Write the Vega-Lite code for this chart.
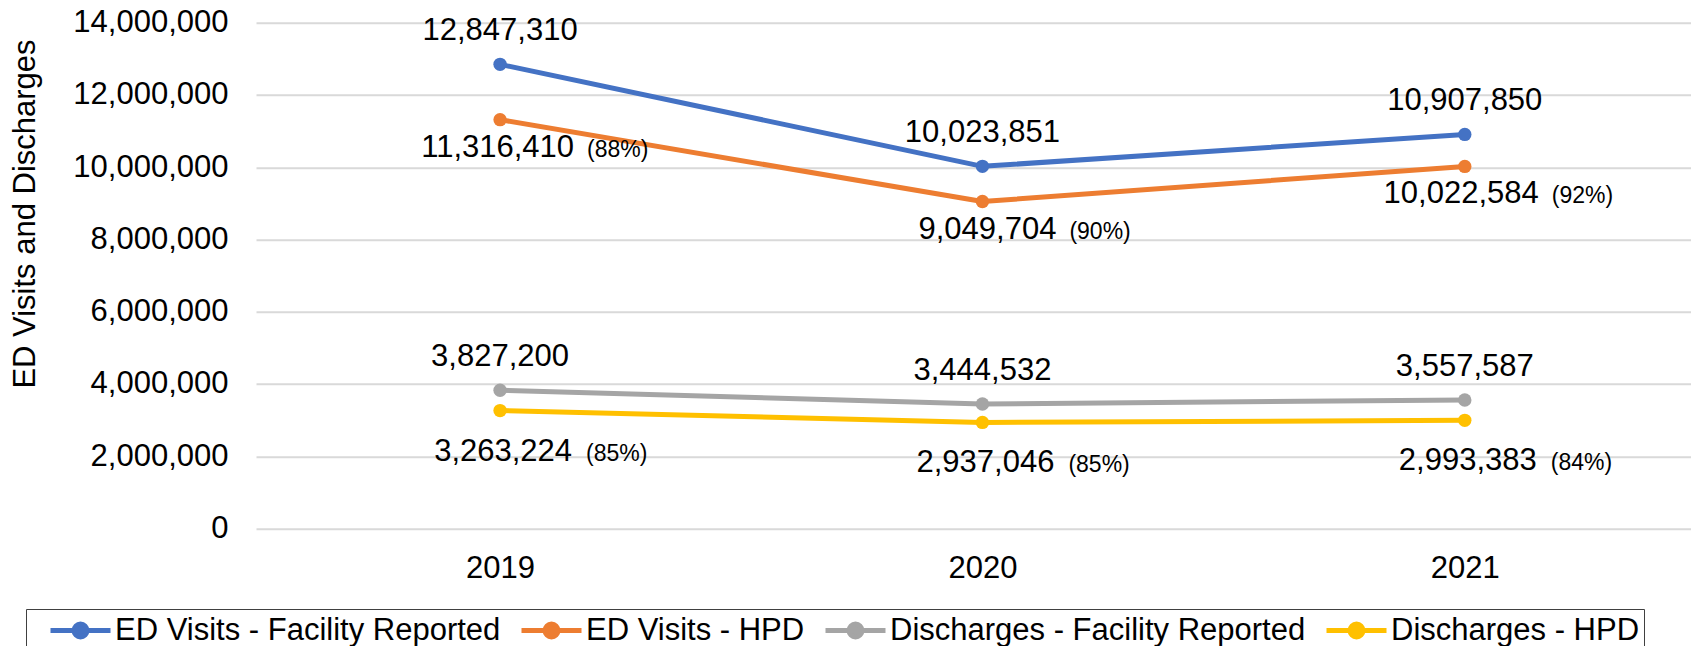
{
  "$schema": "https://vega.github.io/schema/vega-lite/v6.json",
  "width": 1435,
  "height": 505.8,
  "autosize": {"type": "none"},
  "padding": {"left": 256, "top": 22.7, "right": 0, "bottom": 117.5},
  "background": "white",
  "config": {"view": {"stroke": null}, "font": "Liberation Sans, Arial, sans-serif"},
  "data": {"values": [
    {"year": 2019, "series": "ED Visits - Facility Reported", "value": 12847310, "pct": ""},
    {"year": 2020, "series": "ED Visits - Facility Reported", "value": 10023851, "pct": ""},
    {"year": 2021, "series": "ED Visits - Facility Reported", "value": 10907850, "pct": ""},
    {"year": 2019, "series": "ED Visits - HPD", "value": 11316410, "pct": "(88%)"},
    {"year": 2020, "series": "ED Visits - HPD", "value": 9049704, "pct": "(90%)"},
    {"year": 2021, "series": "ED Visits - HPD", "value": 10022584, "pct": "(92%)"},
    {"year": 2019, "series": "Discharges - Facility Reported", "value": 3827200, "pct": ""},
    {"year": 2020, "series": "Discharges - Facility Reported", "value": 3444532, "pct": ""},
    {"year": 2021, "series": "Discharges - Facility Reported", "value": 3557587, "pct": ""},
    {"year": 2019, "series": "Discharges - HPD", "value": 3263224, "pct": "(85%)"},
    {"year": 2020, "series": "Discharges - HPD", "value": 2937046, "pct": "(85%)"},
    {"year": 2021, "series": "Discharges - HPD", "value": 2993383, "pct": "(84%)"}
  ]},
  "encoding": {
    "x": {"field": "year", "type": "quantitative",
      "scale": {"domain": [2018.494, 2021.469], "nice": false, "zero": false},
      "axis": {"values": [2019, 2020, 2021], "format": "d", "title": null, "grid": false, "ticks": false, "domain": false,
        "labelFontSize": 31, "labelColor": "black", "labelPadding": 48.5, "labelBaseline": "alphabetic", "labelFlush": false}},
    "y": {"field": "value", "type": "quantitative",
      "scale": {"domain": [0, 14000000], "nice": false},
      "axis": {"title": "ED Visits and Discharges", "values": [0, 2000000, 4000000, 6000000, 8000000, 10000000, 12000000, 14000000],
        "format": ",.0f", "grid": true, "gridColor": "#D9D9D9", "gridWidth": 2, "domain": false, "ticks": false,
        "labelFontSize": 31, "labelColor": "black", "labelPadding": 28,
        "titleFontSize": 31, "titleFontWeight": "normal", "titleColor": "black",
        "titleX": -222, "titleY": 190.8, "titleAngle": 270, "titleAlign": "center", "titleBaseline": "alphabetic"}}
  },
  "layer": [
    {
      "mark": {"type": "line", "strokeWidth": 5, "strokeJoin": "round", "strokeCap": "round", "point": {"filled": true, "size": 180, "opacity": 1}},
      "encoding": {
        "color": {"field": "series", "type": "nominal",
          "scale": {"domain": ["ED Visits - Facility Reported", "ED Visits - HPD", "Discharges - Facility Reported", "Discharges - HPD"],
                    "range": ["#4472C4", "#ED7D31", "#A5A5A5", "#FFC000"]},
          "legend": {"title": null, "orient": "none", "legendX": -230, "legendY": 586.3, "direction": "horizontal", "columns": 4,
            "labelFontSize": 31, "labelColor": "black", "labelLimit": 1000,
            "symbolType": "M-1,0L3,0M1.43,0A0.43,0.43,0,1,1,0.57,0A0.43,0.43,0,1,1,1.43,0Z",
            "symbolSize": 900, "symbolStrokeWidth": 5, "labelOffset": 32, "columnPadding": -8, "padding": 4,
            "strokeColor": "#404040", "symbolOffset": 18,
            "encode": {"symbols": {"update": {
              "fill": {"scale": "color", "field": "value"},
              "stroke": {"scale": "color", "field": "value"},
              "strokeWidth": {"value": 5},
              "opacity": {"value": 1}}}}}}
      }
    },
    {
      "transform": [{"filter": {"field": "series", "oneOf": ["ED Visits - Facility Reported", "Discharges - Facility Reported"]}}],
      "mark": {"type": "text", "fontSize": 31, "color": "black", "align": "center", "baseline": "alphabetic", "dy": -24},
      "encoding": {"text": {"field": "value", "type": "quantitative", "format": ","}}
    },
    {
      "transform": [{"filter": {"field": "series", "equal": "ED Visits - HPD"}}],
      "mark": {"type": "text", "fontSize": 31, "color": "black", "align": "right", "baseline": "alphabetic", "dx": 74, "dy": 37},
      "encoding": {"text": {"field": "value", "type": "quantitative", "format": ","}}
    },
    {
      "transform": [{"filter": {"field": "series", "equal": "ED Visits - HPD"}}],
      "mark": {"type": "text", "fontSize": 23, "color": "black", "align": "left", "baseline": "alphabetic", "dx": 87, "dy": 37},
      "encoding": {"text": {"field": "pct", "type": "nominal"}}
    },
    {
      "transform": [{"filter": {"field": "series", "equal": "Discharges - HPD"}}],
      "mark": {"type": "text", "fontSize": 31, "color": "black", "align": "right", "baseline": "alphabetic", "dx": 72, "dy": 50},
      "encoding": {"text": {"field": "value", "type": "quantitative", "format": ","}}
    },
    {
      "transform": [{"filter": {"field": "series", "equal": "Discharges - HPD"}}],
      "mark": {"type": "text", "fontSize": 23, "color": "black", "align": "left", "baseline": "alphabetic", "dx": 86, "dy": 50},
      "encoding": {"text": {"field": "pct", "type": "nominal"}}
    }
  ]
}
